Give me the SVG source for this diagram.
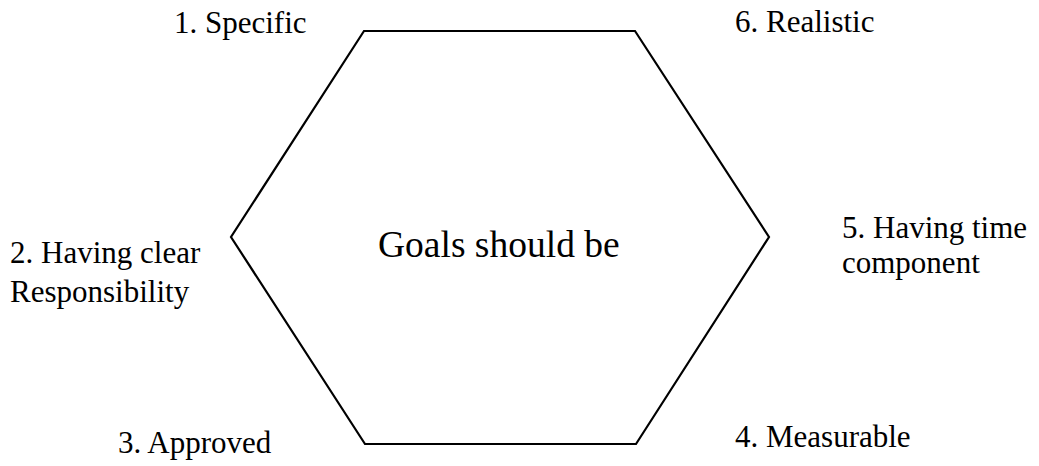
<svg xmlns="http://www.w3.org/2000/svg" width="1039" height="466" viewBox="0 0 1039 466">
<style>
.lbl{font-family:"Liberation Serif","Times New Roman",serif;font-size:31px;fill:#000}
.ctr{font-family:"Liberation Serif","Times New Roman",serif;font-size:37.5px;fill:#000}
.hex{fill:none;stroke:#000;stroke-width:2.2}
</style>
<rect width="1039" height="466" fill="#fff"/>
<g id="hexagon">
<polygon class="hex" points="364,31 635,31 769,237 636,444 365,444 231,237"/>
<text class="ctr" x="378" y="257">Goals should be</text>
</g>
<g id="n1"><text class="lbl" x="174" y="33">1. Specific</text></g>
<g id="n2"><text class="lbl" x="10" y="263">2. Having clear</text><text class="lbl" x="10" y="302">Responsibility</text></g>
<g id="n3"><text class="lbl" x="118" y="453">3. Approved</text></g>
<g id="n4"><text class="lbl" x="735" y="447">4. Measurable</text></g>
<g id="n5"><text class="lbl" x="842" y="238">5. Having time</text><text class="lbl" x="842" y="273">component</text></g>
<g id="n6"><text class="lbl" x="735" y="32">6. Realistic</text></g>
<g id="connectors"></g>
</svg>
